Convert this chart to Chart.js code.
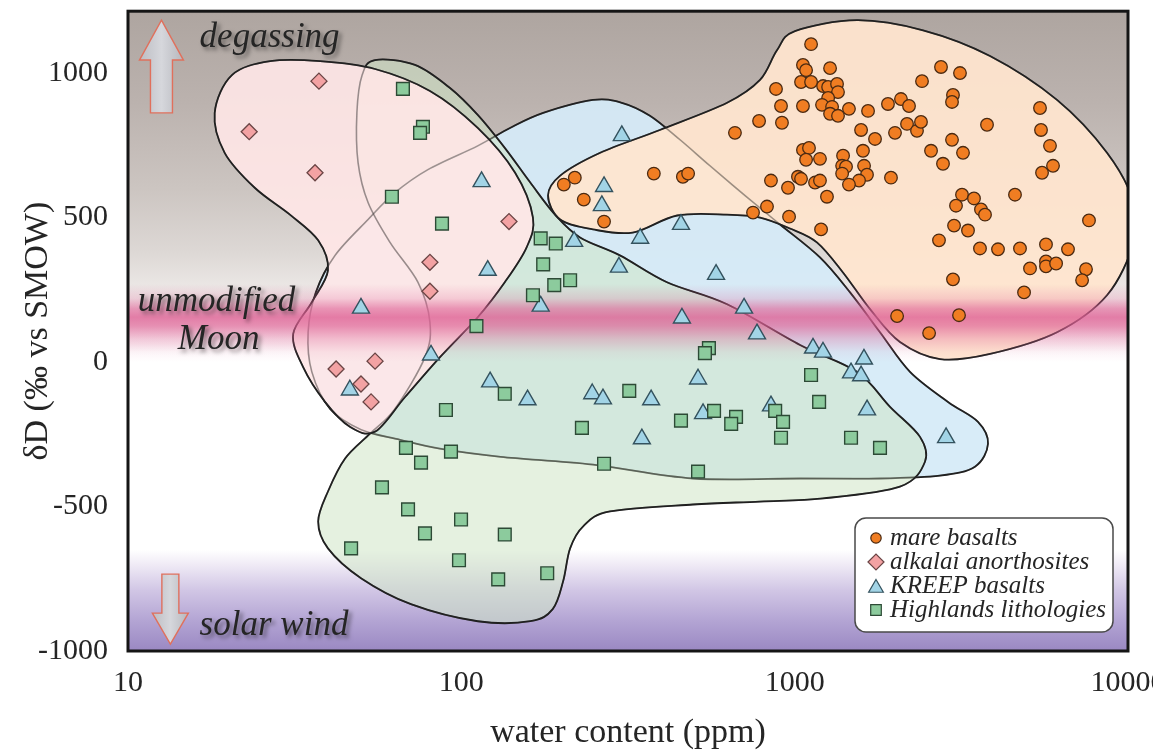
<!DOCTYPE html>
<html>
<head>
<meta charset="utf-8">
<script src="https://cdn.jsdelivr.net/npm/chart.js@4.4.1/dist/chart.umd.min.js"></script>
<style>
  html, body { margin: 0; padding: 0; background: #ffffff; overflow: hidden; width: 1153px; height: 750px; }
  #wrap { position: absolute; left: 0; top: 0; width: 1180px; height: 750px; }
</style>
</head>
<body>
<div id="wrap"><canvas id="c"></canvas></div>
<script>
// ---- axis ticks ----
const xTicks = [10, 100, 1000, 10000];
const yTicks = [-1000, -500, 0, 500, 1000];

// ---- measurements: [water content (ppm), δD (‰)] ----
const mareBasalts = [
  [203,614],[219,638],[233,562],[268,486],[378,652],[462,641],[479,652],[662,793],[782,834],[879,945],
  [910,886],[916,828],[750,517],[826,538],[849,628],[955,603],[962,503],
  [1120,1100],[1059,1028],[1082,1010],[1277,1017],[1045,969],[1120,969],[1217,955],[1260,952],[1340,962],
  [1349,934],[1260,914],[1059,886],[1208,890],[1295,883],[1277,859],[1349,852],[1455,876],[1660,869],
  [1905,893],[2084,910],[2203,886],[2410,972],[2748,1021],[3133,1000],[2985,924],[2965,900],[1582,803],
  [1742,772],[2000,793],[2173,824],[2328,800],[2393,831],[3776,821],[5445,879],[5483,803],[5834,748],
  [5957,679],[5522,655],[1059,734],[1104,741],[1082,700],[1191,703],[1397,714],[1388,679],[1426,676],
  [1388,652],[1603,731],[1615,679],[1648,648],[1560,628],[1455,614],[1945,638],[2565,731],[2965,769],
  [3199,724],[2786,686],[1023,641],[1045,634],[1151,621],[1191,628],[1250,572],[3177,579],[3451,566],
  [3048,541],[3622,528],[3724,510],[4581,579],[7638,490],[1200,459],[3007,472],[3311,455],[2710,421],
  [3597,393],[4074,390],[4742,393],[5675,407],[6607,390],[5082,324],[5675,348],[5675,331],[6085,341],
  [7482,321],[7282,283],[2985,286],[4877,241],[2029,159],[3112,162],[2531,100]
];
const alkaliAnorthosites = [
  [23.1,797],[37.4,972],[36.4,655],[139,486],[80.5,345],[80.5,245],[42.1,-24],[55.1,3],[50.0,-76],[53.6,-138]
];
const kreepBasalts = [
  [50.0,186],[81.1,24],[46.3,-97],[303,783],[115,624],[268,607],[264,541],[456,476],[344,428],[218,417],
  [120,317],[297,328],[581,303],[173,193],[459,152],[705,186],[771,97],[513,-59],[122,-69],[158,-131],
  [247,-110],[266,-128],[371,-131],[531,-179],[849,-152],[348,-266],[1135,48],[1216,34],[1614,10],
  [1476,-38],[1582,-48],[1649,-166],[2846,-262]
];
const highlandsLithologies = [
  [66.8,945],[76.7,814],[75.2,793],[61.9,572],[87.5,479],[111,124],[89.9,-166],[68.2,-297],[75.7,-348],
  [93.1,-310],[57.8,-434],[69.2,-510],[99.8,-545],[77.8,-593],[46.7,-645],[98.4,-686],[173,428],[192,410],
  [176,338],[190,266],[212,283],[164,231],[553,48],[538,31],[135,-110],[319,-100],[230,-228],[456,-203],
  [573,-169],[667,-190],[645,-214],[874,-169],[923,-207],[910,-262],[268,-352],[513,-379],[135,-597],
  [129,-752],[181,-731],[1120,-45],[1184,-138],[1476,-262],[1803,-297]
];

// ---- field outlines for each rock group: [water content (ppm), δD (‰)] ----
const kreepField = [
  [52.5,493],[63.2,586],[79.4,666],[112,748],[140,810],[176,862],[248,907],[303,897],[368,852],[453,769],
  [557,679],[710,576],[904,476],[1191,362],[1466,241],[1803,103],[2218,-34],[2884,-138],[3548,-207],
  [3802,-283],[3475,-362],[2729,-393],[1803,-403],[1038,-403],[495,-403],[248,-355],[131,-328],[86.3,-300],
  [65.5,-269],[50.0,-234],[40.4,-162],[35.6,-34],[34.7,103],[36.6,241],[41.8,369]
];
const highlandsField = [
  [55.1,1045],[72.6,1028],[92.5,948],[112,855],[135,741],[161,621],[191,510],[227,431],[299,369],[414,276],
  [627,200],[1038,59],[1538,-34],[1932,-155],[2377,-259],[2460,-345],[2070,-431],[1216,-472],[787,-483],
  [495,-493],[279,-517],[232,-569],[212,-645],[202,-759],[188,-855],[161,-897],[112,-897],[70.6,-838],
  [50.0,-748],[39.8,-645],[37.2,-552],[39.8,-448],[44.8,-334],[53.2,-248],[63.2,-162],[77.8,17],[80.5,138],
  [74.1,276],[61.1,414],[52.5,552],[49.0,690],[48.6,862],[50.4,993]
];
const mareField = [
  [182,576],[198,645],[261,724],[394,803],[627,897],[787,976],[885,1079],[1002,1145],[1538,1183],[2427,1148],
  [3855,1059],[6124,907],[8650,724],[10400,552],[10400,414],[8650,231],[6124,103],[3855,28],[2729,10],
  [2070,69],[1683,183],[1396,310],[1166,414],[968,462],[787,500],[627,510],[444,507],[327,448],[248,459],[198,493]
];
const alkaliField = [
  [18.2,862],[20.5,993],[26.7,1041],[37.7,1041],[55.1,1014],[80.5,938],[112,810],[145,655],[164,500],
  [157,397],[135,276],[112,155],[86.3,17],[67.8,-121],[55.1,-241],[46.3,-224],[39.0,-138],[33.5,-17],
  [31.3,97],[35.6,207],[39.8,317],[37.2,421],[30.6,510],[24.0,603],[19.5,724]
];

// ---- background bands (δD value -> colour) ----
const backdropStops = [
  [1214,'#aea5a0'],[900,'#bbb2ae'],[600,'#ccc5c1'],[380,'#ddd8d5'],[260,'#ebe7e5'],[150,'#f5f1f1'],
  [20,'#ffffff'],[-650,'#ffffff'],[-700,'#f0ebf6'],[-790,'#d1c6e5'],[-900,'#b2a3d3'],[-1000,'#9a88c2']
];
const moonBandStops = [
  [270,0],[220,0.22],[185,0.62],[155,0.8],[125,0.68],[80,0.32],[35,0.07],[0,0]
];

const toXY = arr => arr.map(([x, y]) => ({ x, y }));

const SERIF = '"Liberation Serif", "Times New Roman", serif';
const INK = '#252525';

function smoothClosed(ctx, pts) {
  const n = pts.length;
  ctx.beginPath();
  ctx.moveTo(pts[0][0], pts[0][1]);
  for (let i = 0; i < n; i++) {
    const p0 = pts[(i - 1 + n) % n], p1 = pts[i], p2 = pts[(i + 1) % n], p3 = pts[(i + 2) % n];
    const c1x = p1[0] + (p2[0] - p0[0]) / 6, c1y = p1[1] + (p2[1] - p0[1]) / 6;
    const c2x = p2[0] - (p3[0] - p1[0]) / 6, c2y = p2[1] - (p3[1] - p1[1]) / 6;
    ctx.bezierCurveTo(c1x, c1y, c2x, c2y, p2[0], p2[1]);
  }
  ctx.closePath();
}

function gradientFrom(ctx, area, yScale, stops, colorFn) {
  const g = ctx.createLinearGradient(0, area.top, 0, area.bottom);
  const h = area.bottom - area.top;
  stops.forEach(([v, c]) => {
    let f = (yScale.getPixelForValue(v) - area.top) / h;
    f = Math.min(1, Math.max(0, f));
    g.addColorStop(f, colorFn ? colorFn(c) : c);
  });
  return g;
}

// background of the plotting area, group fields, band and labels
const backdropPlugin = {
  id: 'backdrop',
  beforeDatasetsDraw(chart) {
    const { ctx, chartArea: a, scales: { x, y } } = chart;
    ctx.save();
    ctx.fillStyle = gradientFrom(ctx, a, y, backdropStops);
    ctx.fillRect(a.left, a.top, a.right - a.left, a.bottom - a.top);

    ctx.beginPath();
    ctx.rect(a.left, a.top, a.right - a.left, a.bottom - a.top);
    ctx.clip();

    // rock-group fields, lowest first
    const fields = [
      { pts: kreepField, fill: 'rgba(213,235,248,0.93)' },
      { pts: highlandsField, fill: 'rgba(208,229,198,0.55)' },
      { pts: mareField, fill: 'rgba(255,229,207,0.93)' },
      { pts: alkaliField, fill: 'rgba(255,231,231,0.9)' }
    ];
    const paths = fields.map(f => f.pts.map(([vx, vy]) => [x.getPixelForValue(vx), y.getPixelForValue(vy)]));
    fields.forEach((f, i) => {
      smoothClosed(ctx, paths[i]);
      ctx.fillStyle = f.fill;
      ctx.fill();
      ctx.lineWidth = 1.8;
      ctx.strokeStyle = '#1c1c1c';
      ctx.stroke();
    });
    // outlines hidden under later fields show through as grey
    paths.forEach(p => {
      smoothClosed(ctx, p);
      ctx.lineWidth = 1.5;
      ctx.strokeStyle = 'rgba(40,40,40,0.42)';
      ctx.stroke();
    });

    // "unmodified Moon" band
    ctx.fillStyle = gradientFrom(ctx, a, y, moonBandStops, al => `rgba(222,96,148,${al})`);
    ctx.fillRect(a.left, a.top, a.right - a.left, a.bottom - a.top);

    // arrows
    const arrow = (cx, tipV, baseV, tailV, head, shaft) => {
      const tip = y.getPixelForValue(tipV), base = y.getPixelForValue(baseV), tail = y.getPixelForValue(tailV);
      ctx.beginPath();
      ctx.moveTo(cx, tip);
      ctx.lineTo(cx + head, base);
      ctx.lineTo(cx + shaft, base);
      ctx.lineTo(cx + shaft, tail);
      ctx.lineTo(cx - shaft, tail);
      ctx.lineTo(cx - shaft, base);
      ctx.lineTo(cx - head, base);
      ctx.closePath();
      const g = ctx.createLinearGradient(cx - head, 0, cx + head, 0);
      g.addColorStop(0, '#bcbdc3');
      g.addColorStop(0.5, '#d6d7dc');
      g.addColorStop(1, '#b6b7bd');
      ctx.fillStyle = g;
      ctx.fill();
      ctx.lineWidth = 1.4;
      ctx.strokeStyle = '#e0705c';
      ctx.stroke();
    };
    arrow(x.getPixelForValue(12.6), 1183, 1045, 862, 22, 11);
    arrow(x.getPixelForValue(13.4), -976, -869, -734, 18, 8.5);

    // labels inside the plot
    ctx.font = `italic 35px ${SERIF}`;
    ctx.textBaseline = 'middle';
    ctx.textAlign = 'left';
    ctx.fillStyle = INK;
    ctx.shadowColor = 'rgba(0,0,0,0.45)';
    ctx.shadowBlur = 4;
    ctx.shadowOffsetX = 3;
    ctx.shadowOffsetY = 3;
    ctx.fillText('degassing', x.getPixelForValue(16.4), y.getPixelForValue(1121));
    ctx.fillText('solar wind', x.getPixelForValue(16.4), y.getPixelForValue(-914));
    ctx.fillText('unmodified', x.getPixelForValue(10.7), y.getPixelForValue(207));
    ctx.fillText('Moon', x.getPixelForValue(14.1), y.getPixelForValue(76));
    ctx.restore();
  }
};

// plot frame and key box
const framePlugin = {
  id: 'frame',
  afterDatasetsDraw(chart) {
    const { ctx, chartArea: a } = chart;
    ctx.save();
    ctx.lineWidth = 3;
    ctx.strokeStyle = '#151515';
    ctx.strokeRect(a.left, a.top, a.right - a.left, a.bottom - a.top);

    const bw = 258, bh = 114;
    const bx = a.right - 15 - bw, by = a.bottom - 19 - bh;
    ctx.beginPath();
    ctx.roundRect(bx, by, bw, bh, 11);
    ctx.fillStyle = '#ffffff';
    ctx.fill();
    ctx.lineWidth = 1.5;
    ctx.strokeStyle = '#4a4a4a';
    ctx.stroke();

    const order = [0, 1, 3, 2];
    const legendRadius = { circle: 5.2, rectRot: 8, triangle: 8.5, rect: 7.5 };
    ctx.font = `italic 25px ${SERIF}`;
    ctx.textBaseline = 'middle';
    ctx.textAlign = 'left';
    order.forEach((di, k) => {
      const ds = chart.data.datasets[di];
      const cy = by + 20 + k * 24;
      const cx = bx + 21;
      ctx.fillStyle = ds.backgroundColor;
      ctx.strokeStyle = ds.borderColor;
      ctx.lineWidth = 1.2;
      Chart.helpers.drawPoint(ctx, {
        pointStyle: ds.pointStyle,
        radius: legendRadius[ds.pointStyle],
        rotation: 0,
        borderWidth: 1.2
      }, cx, cy + (ds.pointStyle === 'triangle' ? 2 : 0));
      ctx.fillStyle = INK;
      ctx.fillText(ds.label, bx + 35, cy);
    });
    ctx.restore();
  }
};

new Chart(document.getElementById('c'), {
  type: 'scatter',
  data: {
    datasets: [
      { label: 'mare basalts', data: toXY(mareBasalts), pointStyle: 'circle', pointRadius: 6.3,
        backgroundColor: '#f07d22', borderColor: '#4a2a12', borderWidth: 1.3 },
      { label: 'alkalai anorthosites', data: toXY(alkaliAnorthosites), pointStyle: 'rectRot', pointRadius: 8,
        backgroundColor: '#f3a2a3', borderColor: '#6a4444', borderWidth: 1.3 },
      { label: 'Highlands lithologies', data: toXY(highlandsLithologies), pointStyle: 'rect', pointRadius: 9,
        backgroundColor: '#8ccb9d', borderColor: '#2d4a36', borderWidth: 1.4 },
      { label: 'KREEP basalts', data: toXY(kreepBasalts), pointStyle: 'triangle', pointRadius: 9.8,
        backgroundColor: '#a2d4e6', borderColor: '#34525e', borderWidth: 1.4 }
    ]
  },
  options: {
    responsive: true,
    maintainAspectRatio: false,
    animation: false,
    events: [],
    layout: { padding: { left: 0, right: 52, top: 8, bottom: 0 } },
    plugins: { legend: { display: false }, tooltip: { enabled: false } },
    scales: {
      x: {
        type: 'logarithmic',
        min: 10, max: 10000,
        grid: { display: false, drawTicks: false },
        border: { display: false },
        afterBuildTicks: s => { s.ticks = xTicks.map(v => ({ value: v })); },
        ticks: { color: INK, font: { family: SERIF, size: 30 }, padding: 14, maxRotation: 0,
                 autoSkip: false, callback: v => String(v) },
        title: { display: true, text: 'water content (ppm)', color: INK,
                 font: { family: SERIF, size: 34, lineHeight: 1 }, padding: { top: 0, bottom: 0 } },
        afterFit: s => { s.height = 99; s.paddingLeft = 0; s.paddingRight = 0; }
      },
      y: {
        type: 'linear',
        min: -1000, max: 1214,
        grid: { display: false, drawTicks: false },
        border: { display: false },
        afterBuildTicks: s => { s.ticks = yTicks.map(v => ({ value: v })); },
        ticks: { color: INK, font: { family: SERIF, size: 30 }, padding: 20, callback: v => String(v) },
        title: { display: true, text: 'δD (‰ vs SMOW)', color: INK,
                 font: { family: SERIF, size: 34, lineHeight: 1 }, padding: { top: 21, bottom: 0 } },
        afterFit: s => { s.width = 128; s.paddingTop = 0; s.paddingBottom = 0; }
      }
    }
  },
  plugins: [backdropPlugin, framePlugin]
});
</script>
</body>
</html>
